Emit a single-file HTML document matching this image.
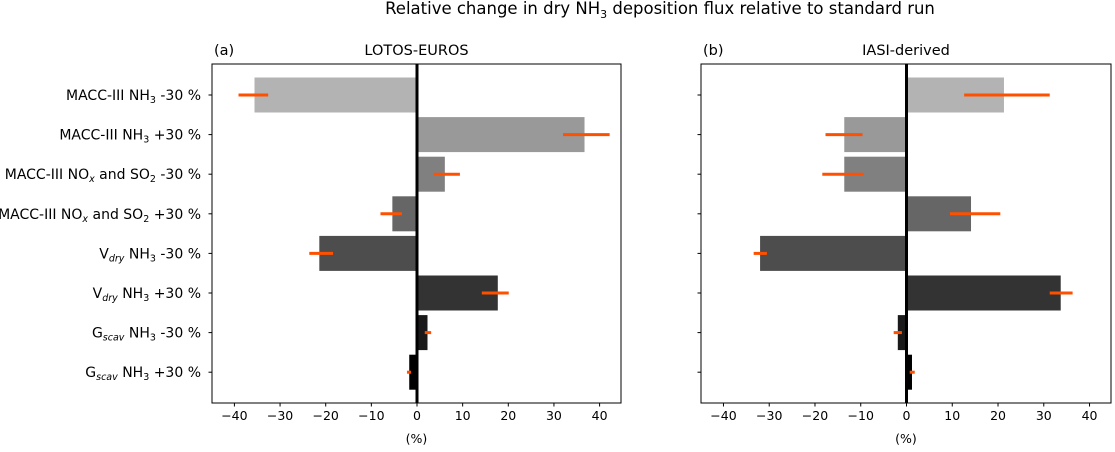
<!DOCTYPE html>
<html><head><meta charset="utf-8"><style>
body{margin:0;background:#fff}
svg text{font-family:"DejaVu Sans","Liberation Sans",sans-serif;fill:#000}
</style></head><body>
<svg id="c" width="1115" height="447" xmlns="http://www.w3.org/2000/svg">
<text x="660" y="14" font-size="16.5" text-anchor="middle">Relative change in dry NH<tspan font-size="11" dy="4">3</tspan><tspan dy="-4"> deposition flux relative to standard run</tspan></text>
</svg>
<script>
const categories=['MACC-III NH3 -30 %','MACC-III NH3 +30 %','MACC-III NOx and SO2 -30 %','MACC-III NOx and SO2 +30 %','Vdry NH3 -30 %','Vdry NH3 +30 %','Gscav NH3 -30 %','Gscav NH3 +30 %'];
const labelsHTML=['MACC-III NH<tspan font-size="9.5" dy="3">3</tspan><tspan dy="-3"> -30 %</tspan>','MACC-III NH<tspan font-size="9.5" dy="3">3</tspan><tspan dy="-3"> +30 %</tspan>','MACC-III NO<tspan font-size="9.5" dy="3" font-style="italic">x</tspan><tspan dy="-3"> and SO</tspan><tspan font-size="9.5" dy="3">2</tspan><tspan dy="-3"> -30 %</tspan>','MACC-III NO<tspan font-size="9.5" dy="3" font-style="italic">x</tspan><tspan dy="-3"> and SO</tspan><tspan font-size="9.5" dy="3">2</tspan><tspan dy="-3"> +30 %</tspan>','V<tspan font-size="9.5" dy="3" font-style="italic">dry</tspan><tspan dy="-3"> NH</tspan><tspan font-size="9.5" dy="3">3</tspan><tspan dy="-3"> -30 %</tspan>','V<tspan font-size="9.5" dy="3" font-style="italic">dry</tspan><tspan dy="-3"> NH</tspan><tspan font-size="9.5" dy="3">3</tspan><tspan dy="-3"> +30 %</tspan>','G<tspan font-size="9.5" dy="3" font-style="italic">scav</tspan><tspan dy="-3"> NH</tspan><tspan font-size="9.5" dy="3">3</tspan><tspan dy="-3"> -30 %</tspan>','G<tspan font-size="9.5" dy="3" font-style="italic">scav</tspan><tspan dy="-3"> NH</tspan><tspan font-size="9.5" dy="3">3</tspan><tspan dy="-3"> +30 %</tspan>'];
const lotosValues=[-35.6,36.7,6.1,-5.4,-21.4,17.7,2.3,-1.7];
const lotosErrLow=[-39.1,32.0,3.7,-8.0,-23.6,14.2,1.7,-2.2];
const lotosErrHigh=[-32.6,42.2,9.4,-3.3,-18.4,20.1,3.1,-1.3];
const iasiValues=[21.3,-13.6,-13.6,14.1,-32.0,33.7,-1.9,1.2];
const iasiErrLow=[12.6,-17.7,-18.4,9.5,-33.4,31.3,-2.8,0.7];
const iasiErrHigh=[31.3,-9.6,-9.4,20.5,-30.5,36.3,-1.0,1.8];
const xTicks=[-40,-30,-20,-10,0,10,20,30,40];
const colors=['#b3b3b3','#999999','#808080','#666666','#4d4d4d','#333333','#1a1a1a','#000000'];
const svg=document.getElementById('c');
const NS='http://www.w3.org/2000/svg';
function mk(t,a){const e=document.createElementNS(NS,t);for(const k in a)e.setAttribute(k,a[k]);svg.appendChild(e);return e;}
function panel(x0,x1,zeroX,title,letter,vals,lo,hi,showLabels,pfx){
 const top=64,bot=403,scale=(x1-x0)/89.6;
 const X=v=>zeroX+v*scale;
 const Y=i=>95+i*39.6;
 let f=mk('rect',{x:x0,y:top,width:x1-x0,height:bot-top,fill:'#fff',stroke:'none'});
 
 vals.forEach((v,i)=>{
  const a=X(Math.min(0,v)),b=X(Math.max(0,v));
  let r=mk('rect',{x:a,y:Y(i)-17.5,width:b-a,height:35,fill:colors[i]});
  
  let e=mk('line',{x1:X(lo[i]),x2:X(hi[i]),y1:Y(i),y2:Y(i),stroke:'#ff5000','stroke-width':3});
  
  let t=mk('line',{x1:x0-3.5,x2:x0,y1:Y(i),y2:Y(i),stroke:'#000'});
  
  if(showLabels){let l=mk('text',{x:x0-11,y:Y(i)+5,'font-size':14,'text-anchor':'end'});l.innerHTML=labelsHTML[i];
   }
 });
 let z=mk('line',{x1:zeroX,x2:zeroX,y1:top,y2:bot,stroke:'#000','stroke-width':3});
 
 let fr=mk('rect',{x:x0,y:top,width:x1-x0,height:bot-top,fill:'none',stroke:'#000','stroke-width':1});
 
 xTicks.forEach(v=>{
  let t=mk('line',{x1:X(v),x2:X(v),y1:bot,y2:bot+3.5,stroke:'#000'});
  
  let l=mk('text',{x:X(v),y:bot+17,'font-size':12.5,'text-anchor':'middle'});l.textContent=(v<0?'\u2212'+(-v):v);
  
 });
 let xl=mk('text',{x:(x0+x1)/2,y:443,'font-size':12.5,'text-anchor':'middle'});xl.textContent='(%)';
 
 let tt=mk('text',{x:(x0+x1)/2,y:55,'font-size':14.5,'text-anchor':'middle'});tt.textContent=title;
 
 let lt=mk('text',{x:x0+2,y:55,'font-size':14.5});lt.textContent=letter;
 
}
panel(212,621,417,'LOTOS-EUROS','(a)',lotosValues,lotosErrLow,lotosErrHigh,true,'lotos');
panel(701,1111,906.5,'IASI-derived','(b)',iasiValues,iasiErrLow,iasiErrHigh,false,'iasi');
</script>
</body></html>
